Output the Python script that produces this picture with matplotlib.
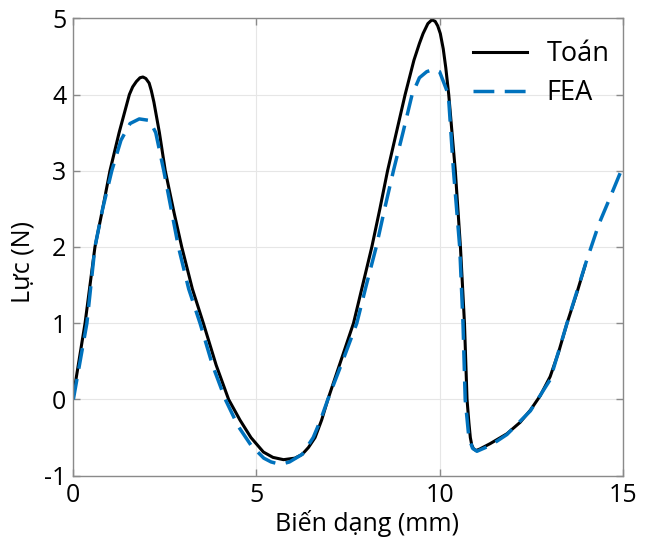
import numpy as np
import matplotlib
matplotlib.use('Agg')
from matplotlib import pyplot as plt

plt.rcParams['font.family'] = ['Open Sans', 'DejaVu Sans']
plt.rcParams['axes.unicode_minus'] = False

# Toán (analytical) curve
x_toan = [0.0, 0.32, 0.59, 0.8, 1.0, 1.25, 1.53, 1.62, 1.72, 1.82, 1.9, 1.98,
          2.07, 2.13, 2.2, 2.35, 2.51, 2.75, 2.96, 3.25, 3.55, 3.9, 4.24, 4.55,
          4.85, 5.19, 5.45, 5.74, 6.05, 6.25, 6.42, 6.6, 6.78, 6.95, 7.3, 7.65,
          7.9, 8.15, 8.37, 8.58, 8.82, 9.06, 9.3, 9.45, 9.55, 9.68, 9.79, 9.88,
          9.95, 10.02, 10.1, 10.17, 10.25, 10.43, 10.57, 10.68, 10.75, 10.8,
          10.84, 10.88, 10.93, 11.0, 11.1, 11.38, 11.84, 12.2, 12.48, 12.75,
          13.02, 13.25, 13.48, 13.75, 13.97]
y_toan = [0.05, 1.0, 2.0, 2.5, 3.0, 3.5, 4.0, 4.1, 4.17, 4.22, 4.23, 4.21,
          4.15, 4.05, 3.9, 3.5, 3.0, 2.45, 2.0, 1.45, 1.0, 0.45, 0.0, -0.27,
          -0.5, -0.69, -0.76, -0.79, -0.77, -0.72, -0.63, -0.5, -0.27, 0.0, 0.5, 1.0,
          1.5, 2.0, 2.5, 3.0, 3.5, 4.0, 4.45, 4.67, 4.8, 4.93, 4.98, 4.96,
          4.9, 4.8, 4.6, 4.35, 4.0, 3.0, 2.0, 1.0, 0.0, -0.3,
          -0.5, -0.6, -0.65, -0.67, -0.65, -0.58, -0.45, -0.3, -0.14, 0.05,
          0.3, 0.62, 1.0, 1.4, 1.75]

# FEA curve
x_fea = [0.0, 0.37, 0.59, 0.8, 1.05, 1.3, 1.55, 1.8, 2.08, 2.25, 2.47, 2.67, 2.87,
         3.15, 3.46, 3.8, 4.15, 4.5, 4.85, 5.2, 5.4, 5.56, 5.75, 5.9, 6.25, 6.55,
         6.75, 6.95, 7.35, 7.74, 8.0, 8.27, 8.5, 8.74, 9.0, 9.25, 9.45, 9.65, 9.84,
         10.0, 10.12, 10.24, 10.38, 10.55, 10.64, 10.7, 10.8, 10.9, 11.02, 11.4,
         11.84, 12.48, 13.02, 13.48, 14.0, 14.35, 14.7, 15.0]
y_fea = [0.0, 1.0, 2.0, 2.5, 3.0, 3.4, 3.62, 3.68, 3.66, 3.5, 3.0, 2.5, 2.0,
         1.45, 1.0, 0.45, 0.0, -0.35, -0.6, -0.77, -0.82, -0.84, -0.84, -0.82, -0.72, -0.5,
         -0.27, 0.0, 0.5, 1.0, 1.5, 2.0, 2.5, 3.0, 3.5, 4.0, 4.22, 4.3, 4.33,
         4.3, 4.15, 4.0, 3.0, 2.0, 1.0, 0.0, -0.5, -0.64, -0.68, -0.6,
         -0.46, -0.15, 0.26, 1.0, 1.8, 2.3, 2.7, 3.05]

xticks = [0, 5, 10, 15]
yticks = [-1, 0, 1, 2, 3, 4, 5]

fig = plt.figure(figsize=(6.45, 5.46), dpi=100)
ax = fig.add_axes([0.1137, 0.1288, 0.8517, 0.8377])

ax.plot(x_toan, y_toan, color='black', lw=2.2, label='Toán')
ax.plot(x_fea, y_fea, color='#0072BD', lw=2.5, dashes=(6, 3), label='FEA')

ax.set_xlim(0, 15)
ax.set_ylim(-1, 5)
ax.set_xticks(xticks)
ax.set_yticks(yticks)
ax.grid(True, color='#e6e6e6', lw=0.8)
ax.set_axisbelow(True)
for s in ax.spines.values():
    s.set_color('#8a8a8a')
    s.set_linewidth(1.0)
ax.tick_params(direction='in', length=5, width=1, color='#8a8a8a',
               top=True, right=True, labelsize=18, pad=5)

ax.set_xlabel('Biến dạng (mm)', fontsize=18)
ax.set_ylabel('Lực (N)', fontsize=18)
ax.xaxis.set_label_coords(0.535, -0.075)
ax.yaxis.set_label_coords(-0.068, 0.467)

leg = ax.legend(loc='upper right', frameon=False, fontsize=19.5,
                handlelength=2.0, handletextpad=0.7, labelspacing=0.4,
                bbox_to_anchor=(1.02, 1.005))

fig.savefig('out.png', dpi=100)
